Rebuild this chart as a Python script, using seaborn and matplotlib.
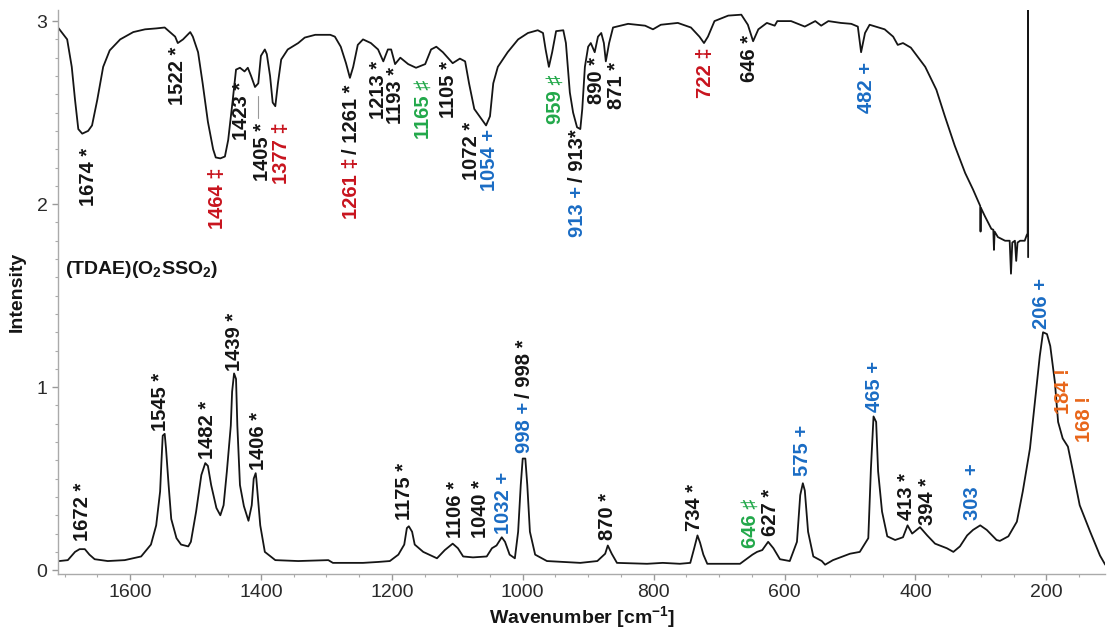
import pandas as pd
import numpy as np
import matplotlib
matplotlib.use('Agg')
import matplotlib.pyplot as plt
from matplotlib.ticker import MultipleLocator
import seaborn as sns

# IR spectrum (top)
ir_wn = [1710, 1696, 1689, 1684, 1679, 1673, 1664, 1658, 1650, 1641, 1631, 1615, 1595, 1577, 1560,
         1547, 1539, 1531, 1527, 1519, 1508, 1504, 1496, 1489, 1481, 1473, 1469, 1462, 1455, 1450,
         1443, 1438, 1432, 1425, 1420, 1415, 1409, 1404, 1400, 1394, 1391, 1386, 1382, 1378, 1374,
         1369, 1359, 1343, 1333, 1317, 1294, 1287, 1278, 1270, 1264, 1259, 1252, 1244, 1232, 1221,
         1213, 1206, 1201, 1195, 1187, 1175, 1163, 1149, 1140, 1132, 1122, 1107, 1096, 1088, 1082,
         1074, 1064, 1056, 1050, 1045, 1038, 1023, 1007, 992, 977, 969, 965, 960, 955, 949,
         938, 934, 928, 923, 917, 912, 909, 905, 900, 896, 890, 885, 880, 876, 873,
         868, 862, 839, 813, 801, 789, 763, 743, 730, 723, 717, 707, 686, 666, 656,
         648, 640, 627, 615, 611, 590, 569, 553, 544, 533, 514, 498, 488, 483, 477,
         470, 447, 434, 427, 419, 407, 385, 368, 355, 340, 324, 312, 301, 300.5, 300,
         294, 284, 281, 280, 279, 274, 263, 256, 254, 252, 248, 246, 244, 240, 233,
         230, 228.5, 228, 227.8]
ir_int = [2.965, 2.90, 2.75, 2.57, 2.41, 2.385, 2.40, 2.43, 2.57, 2.75, 2.84, 2.90, 2.94, 2.955, 2.96,
          2.965, 2.94, 2.915, 2.88, 2.90, 2.94, 2.915, 2.83, 2.66, 2.45, 2.30, 2.255, 2.25, 2.26, 2.35,
          2.57, 2.735, 2.745, 2.725, 2.745, 2.70, 2.64, 2.66, 2.81, 2.845, 2.82, 2.70, 2.555, 2.535, 2.66,
          2.79, 2.845, 2.88, 2.91, 2.925, 2.925, 2.915, 2.86, 2.77, 2.69, 2.75, 2.87, 2.90, 2.88, 2.845,
          2.78, 2.845, 2.845, 2.765, 2.80, 2.765, 2.745, 2.765, 2.845, 2.86, 2.83, 2.77, 2.795, 2.78, 2.66,
          2.52, 2.47, 2.43, 2.48, 2.66, 2.75, 2.83, 2.90, 2.935, 2.95, 2.935, 2.845, 2.75, 2.83, 2.945,
          2.95, 2.88, 2.61, 2.50, 2.42, 2.41, 2.52, 2.75, 2.86, 2.88, 2.83, 2.915, 2.935, 2.88, 2.78,
          2.88, 2.965, 2.985, 2.975, 2.955, 2.98, 2.99, 2.965, 2.915, 2.88, 2.915, 3.00, 3.03, 3.035, 2.98,
          2.89, 2.955, 2.99, 2.975, 3.00, 3.00, 2.97, 3.00, 2.975, 3.00, 2.99, 2.985, 2.97, 2.83, 2.935,
          2.98, 2.955, 2.915, 2.87, 2.88, 2.855, 2.75, 2.625, 2.48, 2.32, 2.17, 2.08, 1.99, 1.85, 1.98,
          1.935, 1.865, 1.86, 1.75, 1.85, 1.82, 1.80, 1.80, 1.62, 1.79, 1.80, 1.69, 1.79, 1.80, 1.80,
          1.83, 1.84, 3.10, 1.71]

# Raman spectrum (bottom)
ra_wn = [1708, 1695, 1684, 1677, 1669, 1662, 1654, 1634, 1608, 1583, 1568, 1560, 1554, 1552, 1550,
         1547, 1545, 1541, 1537, 1529, 1522, 1511, 1507, 1499, 1491, 1485, 1481, 1476, 1468, 1462,
         1457, 1452, 1446, 1444, 1441, 1438, 1436, 1432, 1426, 1419, 1414, 1411, 1408, 1407, 1401,
         1394, 1378, 1343, 1297, 1290, 1267, 1244, 1221, 1203, 1190, 1181, 1177, 1174, 1169, 1165,
         1152, 1131, 1119, 1107, 1099, 1091, 1076, 1055, 1047, 1040, 1032, 1027, 1020, 1012, 1007,
         1003, 1000, 996, 993, 989, 981, 963, 912, 886, 874, 870, 864, 856, 810, 786,
         760, 744, 738, 733, 729, 724, 718, 668, 649, 642, 634, 625, 617, 607, 592,
         581, 576, 572, 569, 564, 556, 543, 538, 526, 500, 485, 472, 468, 464, 460,
         457, 451, 443, 431, 419, 412, 405, 393, 382, 370, 352, 342, 332, 321, 312,
         301, 291, 276, 271, 258, 245, 236, 225, 217, 210, 205, 199, 194, 187, 182,
         175, 167, 161, 149, 133, 118, 110]
ra_int = [0.05, 0.055, 0.10, 0.115, 0.115, 0.085, 0.06, 0.05, 0.055, 0.075, 0.14, 0.245, 0.43, 0.59, 0.735,
          0.745, 0.665, 0.465, 0.28, 0.175, 0.14, 0.13, 0.155, 0.32, 0.52, 0.585, 0.57, 0.465, 0.34, 0.30,
          0.355, 0.54, 0.79, 0.975, 1.075, 1.045, 0.79, 0.465, 0.35, 0.27, 0.355, 0.50, 0.53, 0.50, 0.245,
          0.10, 0.055, 0.05, 0.055, 0.04, 0.04, 0.04, 0.045, 0.05, 0.085, 0.14, 0.23, 0.24, 0.21, 0.14,
          0.10, 0.065, 0.11, 0.145, 0.12, 0.075, 0.07, 0.075, 0.12, 0.135, 0.18, 0.155, 0.085, 0.065, 0.21,
          0.465, 0.61, 0.61, 0.465, 0.21, 0.085, 0.05, 0.04, 0.05, 0.09, 0.135, 0.09, 0.04, 0.035, 0.04,
          0.035, 0.04, 0.12, 0.19, 0.15, 0.085, 0.035, 0.035, 0.085, 0.10, 0.11, 0.155, 0.12, 0.06, 0.05,
          0.155, 0.41, 0.475, 0.435, 0.21, 0.075, 0.05, 0.03, 0.055, 0.09, 0.10, 0.175, 0.555, 0.84, 0.81,
          0.54, 0.32, 0.185, 0.165, 0.18, 0.245, 0.20, 0.235, 0.19, 0.145, 0.12, 0.10, 0.13, 0.19, 0.22,
          0.245, 0.22, 0.165, 0.16, 0.185, 0.265, 0.43, 0.665, 0.935, 1.17, 1.30, 1.29, 1.225, 1.03, 0.81,
          0.72, 0.675, 0.57, 0.355, 0.21, 0.08, 0.03]

BLACK = '#151515'
RED = '#c8141e'
BLUE = '#1a6cc4'
GREEN = '#22a84a'
ORANGE = '#e8661a'

# band labels: text, wavenumber, intensity anchor, colour, (optional second part, colour)
ir_labels = [('1674 *', 1664, 2.31, BLACK), ('1522 *', 1527, 2.86, BLACK),
             ('1464 \u2021', 1466, 2.20, RED), ('1423 *', 1429, 2.67, BLACK),
             ('1405 *', 1398, 2.445, BLACK), ('1377 \u2021', 1368, 2.445, RED),
             ('/ 1261 *', 1261, 2.655, BLACK, '1261 \u2021', RED),
             ('1213 *', 1221, 2.78, BLACK), ('1193 *', 1194, 2.75, BLACK),
             ('1165 \u266f', 1152, 2.68, GREEN), ('1105 *', 1113, 2.78, BLACK),
             ('1072 *', 1079, 2.45, BLACK), ('1054 +', 1050, 2.41, BLUE),
             ('959 \u266f', 951, 2.71, GREEN),
             ('/ 913*', 916, 2.41, BLACK, '913 +', BLUE),
             ('890 *', 888, 2.805, BLACK), ('871 *', 856, 2.775, BLACK),
             ('722 \u2021', 720, 2.855, RED), ('646 *', 653, 2.925, BLACK),
             ('482 +', 474, 2.775, BLUE)]
ra_labels = [('1672 *', 1672, 0.158, BLACK), ('1545 *', 1553, 0.763, BLACK),
             ('1482 *', 1481, 0.61, BLACK), ('1439 *', 1440, 1.09, BLACK),
             ('1406 *', 1404, 0.545, BLACK), ('1175 *', 1180, 0.272, BLACK),
             ('1106 *', 1102, 0.174, BLACK), ('1040 *', 1065, 0.174, BLACK),
             ('1032 +', 1030, 0.20, BLUE),
             ('998 +', 998, 0.638, BLUE, '/ 998 *', BLACK),
             ('870 *', 870, 0.163, BLACK), ('734 *', 737, 0.213, BLACK),
             ('646 \u266f', 653, 0.12, GREEN), ('627 *', 622, 0.185, BLACK),
             ('575 +', 573, 0.512, BLUE), ('465 +', 462, 0.866, BLUE),
             ('413 *', 414, 0.272, BLACK), ('394 *', 382, 0.245, BLACK),
             ('303  +', 313, 0.272, BLUE), ('206 +', 207, 1.32, BLUE),
             ('184 !', 173, 0.855, ORANGE), ('168 !', 142, 0.703, ORANGE)]

sns.set_style('ticks')
plt.rcParams['font.family'] = ['Liberation Sans', 'DejaVu Sans']
plt.rcParams['mathtext.fontset'] = 'custom'
plt.rcParams['mathtext.rm'] = 'Liberation Sans'
plt.rcParams['mathtext.bf'] = 'Liberation Sans:bold'

fig = plt.figure(figsize=(11.07, 6.32), dpi=100)
ax = fig.add_axes([0.0524, 0.092, 0.946, 0.892])

ir = pd.DataFrame({'wn': ir_wn, 'intensity': ir_int})
ra = pd.DataFrame({'wn': ra_wn, 'intensity': ra_int})
sns.lineplot(data=ir, x='wn', y='intensity', sort=False, estimator=None,
             color=BLACK, linewidth=1.3, ax=ax)
sns.lineplot(data=ra, x='wn', y='intensity', sort=False, estimator=None,
             color=BLACK, linewidth=1.3, ax=ax)

# small grey leader line under the 1405 band
ax.plot([1404, 1404], [2.59, 2.47], color='#999999', linewidth=0.8)

fs = 14.5
fam = ['Liberation Sans', 'DejaVu Sans']


def put_labels(labels, va):
    for lab in labels:
        txt, w, y, c = lab[:4]
        t = ax.text(w, y, txt, rotation=90, ha='center', va=va, color=c,
                    fontsize=fs, fontweight='bold', family=fam)
        if len(lab) > 4:
            # second part stacked along the rotated text
            if va == 'top':
                ax.annotate(lab[4], xy=(0.5, 0.0), xycoords=t, xytext=(0, -3),
                            textcoords='offset points', rotation=90, ha='center', va='top',
                            color=lab[5], fontsize=fs, fontweight='bold', family=fam)
            else:
                ax.annotate(lab[4], xy=(0.5, 1.0), xycoords=t, xytext=(0, 3),
                            textcoords='offset points', rotation=90, ha='center', va='bottom',
                            color=lab[5], fontsize=fs, fontweight='bold', family=fam)


put_labels(ir_labels, 'top')
put_labels(ra_labels, 'bottom')

ax.text(1699, 1.645, r'(TDAE)(O$_\mathbf{2}$SSO$_\mathbf{2}$)', ha='left', va='center',
        fontsize=14, fontweight='bold', color=BLACK)

ax.set_xlim(1710, 110)
ax.set_ylim(-0.02, 3.06)
ax.xaxis.set_major_locator(MultipleLocator(200))
ax.xaxis.set_minor_locator(MultipleLocator(50))
ax.yaxis.set_major_locator(MultipleLocator(1))
ax.yaxis.set_minor_locator(MultipleLocator(0.1))
ax.tick_params(which='major', length=4, width=1, color='#999999', labelsize=14,
               labelcolor='#2a2a2a')
ax.tick_params(which='minor', length=2, width=0.8, color='#aaaaaa')

sns.despine(ax=ax)
for s in ['left', 'bottom']:
    ax.spines[s].set_color('#aaaaaa')
    ax.spines[s].set_linewidth(1)

ax.set_xlabel(r'Wavenumber [cm$^{\mathbf{-1}}$]', fontsize=14, fontweight='bold',
              color=BLACK, labelpad=2)
ax.set_ylabel('Intensity', fontsize=14, fontweight='bold', color=BLACK, labelpad=8)

fig.savefig('out.png', dpi=100)
